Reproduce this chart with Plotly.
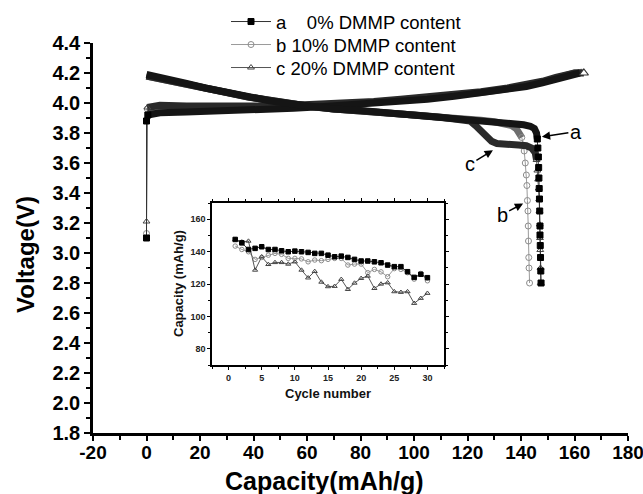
import plotly.graph_objects as go

# ---------------- data ----------------
# charge: start markers (rest voltage at 0 capacity, then jump)
a_start_cap = [0, 0, 0.5]
a_start_v = [3.10, 3.88, 3.92]
b_start_cap = [0, 0.3]
b_start_v = [3.13, 3.96]
c_start_cap = [0, 0.3]
c_start_v = [3.21, 3.97]

# charge curves (dense band)
a_chg_cap = [0.5, 5, 15, 30, 45, 55, 65, 75, 85, 95, 105, 115, 125, 135, 142, 148, 153, 157, 160, 162]
a_chg_v = [3.92, 3.935, 3.94, 3.945, 3.955, 3.965, 3.975, 3.985, 3.995, 4.01, 4.025, 4.045, 4.065, 4.09, 4.11, 4.135, 4.16, 4.185, 4.195, 4.2]
b_chg_cap = [0.3, 5, 15, 30, 45, 55, 65, 75, 85, 95, 105, 115, 125, 135, 142, 148, 153, 157, 160, 163]
b_chg_v = [3.96, 3.98, 3.975, 3.97, 3.975, 3.98, 3.985, 3.995, 4.005, 4.02, 4.035, 4.05, 4.07, 4.095, 4.115, 4.14, 4.165, 4.19, 4.2, 4.205]
c_chg_cap = [0.3, 5, 15, 30, 45, 55, 65, 75, 85, 95, 105, 115, 125, 135, 142, 148, 153, 157, 160, 163.5]
c_chg_v = [3.97, 3.985, 3.98, 3.975, 3.98, 3.985, 3.99, 4.0, 4.01, 4.025, 4.04, 4.055, 4.075, 4.1, 4.12, 4.145, 4.17, 4.19, 4.2, 4.2]

# discharge curves (dense band)
a_dis_cap = [0, 3, 7, 10, 15, 22, 30, 38, 46, 54, 62, 70, 80, 90, 100, 110, 116, 120, 126, 132, 137, 141, 143.5, 145, 145.8, 146.1]
a_dis_v = [4.19, 4.18, 4.16, 4.15, 4.13, 4.10, 4.07, 4.04, 4.015, 3.995, 3.975, 3.96, 3.95, 3.935, 3.92, 3.905, 3.90, 3.895, 3.885, 3.875, 3.865, 3.855, 3.845, 3.83, 3.80, 3.76]
b_dis_cap = [0, 3, 7, 10, 15, 22, 30, 38, 46, 54, 62, 70, 80, 90, 100, 110, 116, 120, 125, 130, 134, 136.5, 138.2, 139.4, 140.3]
b_dis_v = [4.18, 4.17, 4.155, 4.145, 4.125, 4.10, 4.07, 4.04, 4.015, 3.995, 3.975, 3.96, 3.95, 3.935, 3.92, 3.905, 3.90, 3.895, 3.885, 3.875, 3.865, 3.85, 3.83, 3.80, 3.77]
c_dis_cap = [0, 3, 7, 10, 15, 22, 30, 38, 46, 54, 62, 70, 80, 90, 100, 110, 114, 118, 121, 123, 125, 127, 129, 131, 135, 139, 142, 144, 145.3, 145.8]
c_dis_v = [4.18, 4.17, 4.155, 4.145, 4.125, 4.10, 4.07, 4.04, 4.015, 3.995, 3.975, 3.96, 3.95, 3.935, 3.92, 3.905, 3.90, 3.895, 3.88, 3.85, 3.81, 3.77, 3.745, 3.73, 3.72, 3.72, 3.715, 3.70, 3.67, 3.62]

# discharge tails (sparse points, markers visible)
a_tail_cap = [146.1, 146.3, 146.5, 146.6, 146.7, 146.8, 146.9, 147.0, 147.1, 147.1, 147.2, 147.3, 147.4, 147.5]
a_tail_v = [3.76, 3.70, 3.64, 3.57, 3.50, 3.43, 3.36, 3.28, 3.18, 3.12, 3.05, 2.97, 2.88, 2.80]
b_tail_cap = [140.3, 140.8, 141.2, 141.6, 142.0, 142.2, 142.4, 142.6, 142.7, 142.8, 142.9, 143.0, 143.2]
b_tail_v = [3.77, 3.72, 3.68, 3.60, 3.52, 3.45, 3.35, 3.28, 3.18, 3.08, 2.97, 2.90, 2.80]
c_tail_cap = [145.8, 146.1, 146.4, 146.6, 146.8, 146.9, 147.0, 147.1, 147.2, 147.3, 147.4]
c_tail_v = [3.62, 3.55, 3.49, 3.43, 3.36, 3.28, 3.19, 3.10, 3.02, 2.90, 2.80]

# inset: capacity vs cycle number
cycles = list(range(1, 31))
inset_a = [147.5, 145.4, 141.3, 142.0, 143.0, 141.3, 141.3, 140.5, 139.9, 140.3, 139.9, 139.5, 138.9, 138.9, 137.8,
           136.8, 137.2, 136.4, 135.2, 134.2, 134.2, 133.7, 133.1, 131.7, 130.7, 130.7, 127.6, 124.1, 126.0, 123.9]
inset_b = [143.4, 141.3, 139.9, 135.2, 136.4, 137.8, 138.9, 138.3, 135.8, 135.8, 135.5, 133.7, 134.8, 134.4, 135.2,
           135.8, 135.8, 131.7, 132.3, 132.3, 127.0, 129.0, 127.5, 124.5, 129.5, 129.0, 127.0, 123.0, 126.5, 122.0]
inset_c = [147.5, 146.0, 146.5, 128.6, 136.8, 132.1, 133.3, 133.3, 132.3, 133.7, 128.6, 123.8, 127.8, 121.2, 118.4,
           118.6, 122.9, 116.7, 120.6, 123.5, 124.9, 117.3, 120.0, 120.8, 115.3, 114.9, 115.3, 108.1, 111.2, 114.3]

legend_names = ["a\u00a0\u00a0\u00a0 0% DMMP content", "b 10% DMMP content", "c 20% DMMP content"]

x_ticks = list(range(-20, 181, 20))
y_ticks = [1.8, 2.0, 2.2, 2.4, 2.6, 2.8, 3.0, 3.2, 3.4, 3.6, 3.8, 4.0, 4.2, 4.4]
inset_x_ticks = [0, 5, 10, 15, 20, 25, 30]
inset_y_ticks = [80, 100, 120, 140, 160]

# ---------------- styling ----------------
FONT = "Liberation Sans, Arial, sans-serif"
W, H = 643, 494
ML, MR, MT, MB = 93, 15, 43, 61
PW, PH = W - ML - MR, H - MT - MB


def px_to_paper(px, py):
    return (px - ML) / PW, (H - MB - py) / PH


styles = {
    "a": dict(band="#151515", line="#333333", msym="square", mcol="#000000", medge="#000000"),
    "b": dict(band="#6e6e6e", line="#9a9a9a", msym="circle-open", mcol="#8c8c8c", medge="#8c8c8c"),
    "c": dict(band="#2a2a2a", line="#555555", msym="triangle-up-open", mcol="#444444", medge="#444444"),
}

series = {
    "a": (a_start_cap, a_start_v, a_chg_cap, a_chg_v, a_dis_cap, a_dis_v, a_tail_cap, a_tail_v, inset_a, legend_names[0]),
    "b": (b_start_cap, b_start_v, b_chg_cap, b_chg_v, b_dis_cap, b_dis_v, b_tail_cap, b_tail_v, inset_b, legend_names[1]),
    "c": (c_start_cap, c_start_v, c_chg_cap, c_chg_v, c_dis_cap, c_dis_v, c_tail_cap, c_tail_v, inset_c, legend_names[2]),
}
legend_ids = {"a": "legend", "b": "legend2", "c": "legend3"}
legend_rows = {"a": 22, "b": 45, "c": 68}

fig = go.Figure()

for key in ["b", "c", "a"]:
    st = styles[key]
    s_cap, s_v, ch_cap, ch_v, d_cap, d_v, t_cap, t_v, ins, name = series[key]
    fig.add_trace(go.Scatter(x=ch_cap, y=ch_v, mode="lines", line=dict(color=st["band"], width=7),
                             showlegend=False, hoverinfo="skip"))
    fig.add_trace(go.Scatter(x=d_cap, y=d_v, mode="lines", line=dict(color=st["band"], width=7),
                             showlegend=False, hoverinfo="skip"))
    fig.add_trace(go.Scatter(x=s_cap, y=s_v, mode="lines+markers",
                             line=dict(color=st["line"], width=1),
                             marker=dict(symbol=st["msym"], size=6, color=st["mcol"],
                                         line=dict(color=st["medge"], width=1)),
                             showlegend=False, hoverinfo="skip"))
    fig.add_trace(go.Scatter(x=t_cap, y=t_v, mode="lines+markers", name=name, legend=legend_ids[key],
                             line=dict(color=st["line"], width=1),
                             marker=dict(symbol=st["msym"], size=6, color=st["mcol"],
                                         line=dict(color=st["medge"], width=1))))
    fig.add_trace(go.Scatter(x=cycles, y=ins, mode="lines+markers", xaxis="x2", yaxis="y2",
                             line=dict(color=st["line"], width=1),
                             marker=dict(symbol=st["msym"], size=4.5, color=st["mcol"],
                                         line=dict(color=st["medge"], width=1)),
                             showlegend=False, hoverinfo="skip"))

fig.add_trace(go.Scatter(x=c_chg_cap[-1:], y=c_chg_v[-1:], mode="markers",
                         marker=dict(symbol="triangle-up", size=8, color="white",
                                     line=dict(color="#333333", width=1.2)),
                         showlegend=False, hoverinfo="skip"))

x_tick_font = dict(family=FONT, size=19, color="black", weight="bold")
y_tick_font = dict(family=FONT, size=20, color="black", weight="bold")


def legend_cfg(row_y):
    return dict(x=px_to_paper(226, 0)[0], y=px_to_paper(0, row_y)[1], xanchor="left", yanchor="middle",
                font=dict(family=FONT, size=18.5, color="black"), bgcolor="rgba(0,0,0,0)",
                itemwidth=40, tracegroupgap=0)


fig.update_layout(
    width=W, height=H,
    margin=dict(l=ML, r=MR, t=MT, b=MB, autoexpand=False),
    paper_bgcolor="white", plot_bgcolor="white",
    font=dict(family=FONT, color="black"),
    showlegend=True,
    legend=legend_cfg(legend_rows["a"]),
    legend2=legend_cfg(legend_rows["b"]),
    legend3=legend_cfg(legend_rows["c"]),
    xaxis=dict(range=[-20, 180], tickvals=x_ticks, ticktext=[str(v) for v in x_ticks],
               showline=True, linecolor="black", linewidth=2.5, ticks="outside", ticklen=5,
               tickwidth=2, tickcolor="black", showgrid=False, zeroline=False, tickfont=x_tick_font,
               ticklabeloverflow="allow", ticklabelstandoff=-5, automargin=False,
               minor=dict(ticks="outside", ticklen=4, tickwidth=1.5, tickcolor="black", dtick=10, tick0=0,
                          showgrid=False),
               domain=[0, 1]),
    yaxis=dict(range=[1.8, 4.4], tickvals=y_ticks, ticktext=[f"{v:.1f}" for v in y_ticks],
               showline=True, linecolor="black", linewidth=2.5, ticks="outside", ticklen=6,
               tickwidth=2, tickcolor="black", showgrid=False, zeroline=False, tickfont=y_tick_font,
               ticklabeloverflow="allow", automargin=False,
               minor=dict(ticks="outside", ticklen=4, tickwidth=1.5, tickcolor="black", dtick=0.1, tick0=0,
                          showgrid=False),
               domain=[0, 1]),
    xaxis2=dict(domain=[px_to_paper(212, 0)[0], px_to_paper(444, 0)[0]], anchor="y2",
                range=[-2.5, 32.5], tickvals=inset_x_ticks, showline=True, linecolor="black", linewidth=1.5,
                mirror="ticks", ticks="outside", ticklen=3, tickwidth=1.2, tickcolor="black",
                showgrid=False, zeroline=False, automargin=False,
                tickfont=dict(family=FONT, size=9, color="#222", weight="bold"),
                minor=dict(ticks="outside", ticklen=2, tickwidth=1, tickcolor="black", dtick=2.5, tick0=0)),
    yaxis2=dict(domain=[px_to_paper(0, 365)[1], px_to_paper(0, 203)[1]], anchor="x2",
                range=[70, 170], tickvals=inset_y_ticks, showline=True, linecolor="black", linewidth=1.5,
                mirror="ticks", ticks="outside", ticklen=3, tickwidth=1.2, tickcolor="black",
                showgrid=False, zeroline=False, automargin=False,
                tickfont=dict(family=FONT, size=9, color="#222", weight="bold"),
                minor=dict(ticks="outside", ticklen=2, tickwidth=1, tickcolor="black", dtick=10, tick0=0)),
)

ann = []
xt = px_to_paper(324, 481)
ann.append(dict(x=xt[0], y=xt[1], xref="paper", yref="paper", text="Capacity(mAh/g)", showarrow=False,
                font=dict(family=FONT, size=25, color="black", weight="bold"), xanchor="center", yanchor="middle"))
yt = px_to_paper(25, 255)
ann.append(dict(x=yt[0], y=yt[1], xref="paper", yref="paper", text="Voltage(V)", showarrow=False, textangle=-90,
                font=dict(family=FONT, size=24, color="black", weight="bold"), xanchor="center", yanchor="middle"))
ixt = px_to_paper(328, 393)
ann.append(dict(x=ixt[0], y=ixt[1], xref="paper", yref="paper", text="Cycle number", showarrow=False,
                font=dict(family=FONT, size=13, color="#111", weight="bold"), xanchor="center", yanchor="middle"))
iyt = px_to_paper(178, 284)
ann.append(dict(x=iyt[0], y=iyt[1], xref="paper", yref="paper", text="Capacity (mAh/g)", showarrow=False,
                textangle=-90, font=dict(family=FONT, size=13, color="#111", weight="bold"),
                xanchor="center", yanchor="middle"))
for lab, hx, hy, axo, ayo in [("a", 147.8, 3.775, 34, -5), ("c", 129.5, 3.685, -23, 14), ("b", 140.8, 3.33, -21, 11)]:
    ann.append(dict(x=hx, y=hy, xref="x", yref="y", text=lab, showarrow=True, ax=axo, ay=ayo,
                    arrowhead=2, arrowsize=1.1, arrowwidth=1.5, arrowcolor="black",
                    font=dict(family=FONT, size=20, color="black")))
fig.update_layout(annotations=ann)

fig.write_html("out.html")
